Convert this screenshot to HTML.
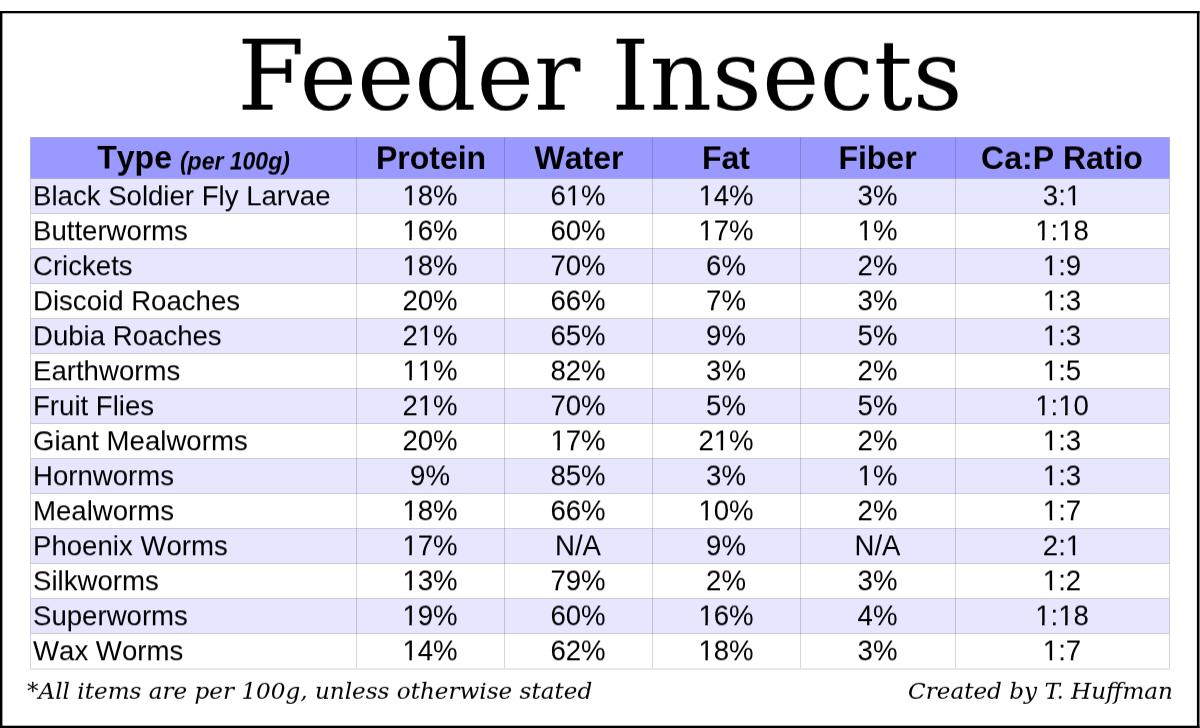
<!DOCTYPE html>
<html lang="en"><head><meta charset="utf-8"><title>Feeder Insects</title>
<style>
html,body{margin:0;padding:0;background:#fff;}
body{width:1200px;height:728px;position:relative;overflow:hidden;font-family:"Liberation Sans",sans-serif;color:#000;font-kerning:none;}
.bg{position:absolute;left:0;top:0;}
h1{position:absolute;left:0.4px;width:1200px;margin:0;text-align:center;font-family:"DejaVu Serif",serif;font-kerning:normal;font-weight:normal;font-size:97.1px;line-height:120px;top:15.5px;white-space:nowrap;transform:perspective(100000px) translateY(0.7px) rotateX(0.01deg);}
.c{position:absolute;white-space:nowrap;font-size:27.6px;line-height:35px;height:35px;}
.c.t{transform:perspective(100000px) translateY(0.3px) rotateX(0.01deg);}
.c.n{text-align:center;transform:perspective(100000px) translateY(0.3px) scaleY(1.04) rotateX(0.01deg);transform-origin:50% 27px;}
.c.t{text-align:left;}
.h{position:absolute;white-space:nowrap;font-weight:bold;font-size:32px;line-height:41px;height:41px;text-align:center;top:138px;transform:perspective(100000px) translateY(0px) scaleY(1.025) rotateX(0.01deg);transform-origin:50% 31px;}
.h.h0{transform:perspective(100000px) translateY(-0.5px) scaleY(1.025) rotateX(0.01deg);}
.h .ty{font-size:32px;}
.h .per{font-size:23px;font-style:italic;position:relative;top:0.9px;left:-0.9px;}
.foot{position:absolute;font-family:"DejaVu Serif",serif;font-kerning:normal;font-style:italic;font-size:23.1px;line-height:30px;top:675px;white-space:nowrap;transform:perspective(100000px) translateY(0.8px) rotateX(0.01deg);}
</style></head><body>
<h1>Feeder Insects</h1>

<svg class="bg" width="1200" height="728" viewBox="0 0 1200 728"><g fill="#000"><rect x="0" y="11" width="1199.5" height="2.3"/><rect x="0" y="11" width="2.4" height="717"/><rect x="1196.9" y="11" width="2.6" height="717"/><rect x="0" y="725.7" width="1199.5" height="2.3"/></g><rect x="30.5" y="137.5" width="1139" height="41.2" fill="#9999ff"/><rect x="30.5" y="178.5" width="1139" height="35" fill="#e6e6ff"/><rect x="30.5" y="248.5" width="1139" height="35" fill="#e6e6ff"/><rect x="30.5" y="318.5" width="1139" height="35" fill="#e6e6ff"/><rect x="30.5" y="388.5" width="1139" height="35" fill="#e6e6ff"/><rect x="30.5" y="458.5" width="1139" height="35" fill="#e6e6ff"/><rect x="30.5" y="528.5" width="1139" height="35" fill="#e6e6ff"/><rect x="30.5" y="598.5" width="1139" height="35" fill="#e6e6ff"/><g fill="#000" fill-opacity="0.16"><rect x="30" y="137" width="1" height="531.2"/><rect x="356" y="137" width="1" height="531.2"/><rect x="504" y="137" width="1" height="531.2"/><rect x="652" y="137" width="1" height="531.2"/><rect x="800" y="137" width="1" height="531.2"/><rect x="955" y="137" width="1" height="531.2"/><rect x="1169" y="137" width="1" height="531.2"/><rect x="31" y="137" width="1138" height="1"/><rect x="31" y="178" width="1138" height="1"/><rect x="31" y="213" width="1138" height="1"/><rect x="31" y="248" width="1138" height="1"/><rect x="31" y="283" width="1138" height="1"/><rect x="31" y="318" width="1138" height="1"/><rect x="31" y="353" width="1138" height="1"/><rect x="31" y="388" width="1138" height="1"/><rect x="31" y="423" width="1138" height="1"/><rect x="31" y="458" width="1138" height="1"/><rect x="31" y="493" width="1138" height="1"/><rect x="31" y="528" width="1138" height="1"/><rect x="31" y="563" width="1138" height="1"/><rect x="31" y="598" width="1138" height="1"/><rect x="31" y="633" width="1138" height="1"/></g><rect x="30" y="668.2" width="1140" height="1.5" fill="#000" fill-opacity="0.115"/></svg>
<div role="table" aria-label="Feeder insects nutrition table">
<div role="row">
<div role="columnheader" class="h h0" style="left:30.5px;width:326px"><span class="ty">Type</span> <span class="per">(per 100g)</span></div>
<div role="columnheader" class="h" style="left:356.5px;width:148px">Protein</div>
<div role="columnheader" class="h" style="left:504.5px;width:148px">Water</div>
<div role="columnheader" class="h" style="left:651.8px;width:148px">Fat</div>
<div role="columnheader" class="h" style="left:800.0px;width:155px">Fiber</div>
<div role="columnheader" class="h" style="left:954.6px;width:214px">Ca:P Ratio</div>
</div>
<div role="row">
<div role="rowheader" class="c t" style="left:32.6px;top:178px">Black Soldier Fly Larvae</div>
<div role="cell" class="c n" style="left:356px;width:148px;top:178px">18%</div>
<div role="cell" class="c n" style="left:504px;width:148px;top:178px">61%</div>
<div role="cell" class="c n" style="left:652px;width:148px;top:178px">14%</div>
<div role="cell" class="c n" style="left:800px;width:155px;top:178px">3%</div>
<div role="cell" class="c n" style="left:955px;width:214px;top:178px">3:1</div>
</div>
<div role="row">
<div role="rowheader" class="c t" style="left:32.6px;top:213px">Butterworms</div>
<div role="cell" class="c n" style="left:356px;width:148px;top:213px">16%</div>
<div role="cell" class="c n" style="left:504px;width:148px;top:213px">60%</div>
<div role="cell" class="c n" style="left:652px;width:148px;top:213px">17%</div>
<div role="cell" class="c n" style="left:800px;width:155px;top:213px">1%</div>
<div role="cell" class="c n" style="left:955px;width:214px;top:213px">1:18</div>
</div>
<div role="row">
<div role="rowheader" class="c t" style="left:32.6px;top:248px">Crickets</div>
<div role="cell" class="c n" style="left:356px;width:148px;top:248px">18%</div>
<div role="cell" class="c n" style="left:504px;width:148px;top:248px">70%</div>
<div role="cell" class="c n" style="left:652px;width:148px;top:248px">6%</div>
<div role="cell" class="c n" style="left:800px;width:155px;top:248px">2%</div>
<div role="cell" class="c n" style="left:955px;width:214px;top:248px">1:9</div>
</div>
<div role="row">
<div role="rowheader" class="c t" style="left:32.6px;top:283px">Discoid Roaches</div>
<div role="cell" class="c n" style="left:356px;width:148px;top:283px">20%</div>
<div role="cell" class="c n" style="left:504px;width:148px;top:283px">66%</div>
<div role="cell" class="c n" style="left:652px;width:148px;top:283px">7%</div>
<div role="cell" class="c n" style="left:800px;width:155px;top:283px">3%</div>
<div role="cell" class="c n" style="left:955px;width:214px;top:283px">1:3</div>
</div>
<div role="row">
<div role="rowheader" class="c t" style="left:32.6px;top:318px">Dubia Roaches</div>
<div role="cell" class="c n" style="left:356px;width:148px;top:318px">21%</div>
<div role="cell" class="c n" style="left:504px;width:148px;top:318px">65%</div>
<div role="cell" class="c n" style="left:652px;width:148px;top:318px">9%</div>
<div role="cell" class="c n" style="left:800px;width:155px;top:318px">5%</div>
<div role="cell" class="c n" style="left:955px;width:214px;top:318px">1:3</div>
</div>
<div role="row">
<div role="rowheader" class="c t" style="left:32.6px;top:353px">Earthworms</div>
<div role="cell" class="c n" style="left:356px;width:148px;top:353px">11%</div>
<div role="cell" class="c n" style="left:504px;width:148px;top:353px">82%</div>
<div role="cell" class="c n" style="left:652px;width:148px;top:353px">3%</div>
<div role="cell" class="c n" style="left:800px;width:155px;top:353px">2%</div>
<div role="cell" class="c n" style="left:955px;width:214px;top:353px">1:5</div>
</div>
<div role="row">
<div role="rowheader" class="c t" style="left:32.6px;top:388px">Fruit Flies</div>
<div role="cell" class="c n" style="left:356px;width:148px;top:388px">21%</div>
<div role="cell" class="c n" style="left:504px;width:148px;top:388px">70%</div>
<div role="cell" class="c n" style="left:652px;width:148px;top:388px">5%</div>
<div role="cell" class="c n" style="left:800px;width:155px;top:388px">5%</div>
<div role="cell" class="c n" style="left:955px;width:214px;top:388px">1:10</div>
</div>
<div role="row">
<div role="rowheader" class="c t" style="left:32.6px;top:423px">Giant Mealworms</div>
<div role="cell" class="c n" style="left:356px;width:148px;top:423px">20%</div>
<div role="cell" class="c n" style="left:504px;width:148px;top:423px">17%</div>
<div role="cell" class="c n" style="left:652px;width:148px;top:423px">21%</div>
<div role="cell" class="c n" style="left:800px;width:155px;top:423px">2%</div>
<div role="cell" class="c n" style="left:955px;width:214px;top:423px">1:3</div>
</div>
<div role="row">
<div role="rowheader" class="c t" style="left:32.6px;top:458px">Hornworms</div>
<div role="cell" class="c n" style="left:356px;width:148px;top:458px">9%</div>
<div role="cell" class="c n" style="left:504px;width:148px;top:458px">85%</div>
<div role="cell" class="c n" style="left:652px;width:148px;top:458px">3%</div>
<div role="cell" class="c n" style="left:800px;width:155px;top:458px">1%</div>
<div role="cell" class="c n" style="left:955px;width:214px;top:458px">1:3</div>
</div>
<div role="row">
<div role="rowheader" class="c t" style="left:32.6px;top:493px">Mealworms</div>
<div role="cell" class="c n" style="left:356px;width:148px;top:493px">18%</div>
<div role="cell" class="c n" style="left:504px;width:148px;top:493px">66%</div>
<div role="cell" class="c n" style="left:652px;width:148px;top:493px">10%</div>
<div role="cell" class="c n" style="left:800px;width:155px;top:493px">2%</div>
<div role="cell" class="c n" style="left:955px;width:214px;top:493px">1:7</div>
</div>
<div role="row">
<div role="rowheader" class="c t" style="left:32.6px;top:528px">Phoenix Worms</div>
<div role="cell" class="c n" style="left:356px;width:148px;top:528px">17%</div>
<div role="cell" class="c n" style="left:504px;width:148px;top:528px">N/A</div>
<div role="cell" class="c n" style="left:652px;width:148px;top:528px">9%</div>
<div role="cell" class="c n" style="left:800px;width:155px;top:528px">N/A</div>
<div role="cell" class="c n" style="left:955px;width:214px;top:528px">2:1</div>
</div>
<div role="row">
<div role="rowheader" class="c t" style="left:32.6px;top:563px">Silkworms</div>
<div role="cell" class="c n" style="left:356px;width:148px;top:563px">13%</div>
<div role="cell" class="c n" style="left:504px;width:148px;top:563px">79%</div>
<div role="cell" class="c n" style="left:652px;width:148px;top:563px">2%</div>
<div role="cell" class="c n" style="left:800px;width:155px;top:563px">3%</div>
<div role="cell" class="c n" style="left:955px;width:214px;top:563px">1:2</div>
</div>
<div role="row">
<div role="rowheader" class="c t" style="left:32.6px;top:598px">Superworms</div>
<div role="cell" class="c n" style="left:356px;width:148px;top:598px">19%</div>
<div role="cell" class="c n" style="left:504px;width:148px;top:598px">60%</div>
<div role="cell" class="c n" style="left:652px;width:148px;top:598px">16%</div>
<div role="cell" class="c n" style="left:800px;width:155px;top:598px">4%</div>
<div role="cell" class="c n" style="left:955px;width:214px;top:598px">1:18</div>
</div>
<div role="row">
<div role="rowheader" class="c t" style="left:32.6px;top:633px">Wax Worms</div>
<div role="cell" class="c n" style="left:356px;width:148px;top:633px">14%</div>
<div role="cell" class="c n" style="left:504px;width:148px;top:633px">62%</div>
<div role="cell" class="c n" style="left:652px;width:148px;top:633px">18%</div>
<div role="cell" class="c n" style="left:800px;width:155px;top:633px">3%</div>
<div role="cell" class="c n" style="left:955px;width:214px;top:633px">1:7</div>
</div>
</div>
<svg class="bg" width="1200" height="728" viewBox="0 0 1200 728"><path fill="#e6e6ff" d="M403.68 202.70H409.32V205.90H403.68ZM411.76 202.70H417.18V205.90H411.76ZM567.03 202.70H572.67V205.90H567.03ZM575.11 202.70H580.53V205.90H575.11ZM699.68 202.70H705.32V205.90H699.68ZM707.76 202.70H713.18V205.90H707.76ZM1067.13 202.70H1072.77V205.90H1067.13ZM1075.21 202.70H1080.63V205.90H1075.21Z"/><path fill="#ffffff" d="M403.68 237.70H409.32V240.90H403.68ZM411.76 237.70H417.18V240.90H411.76ZM699.68 237.70H705.32V240.90H699.68ZM707.76 237.70H713.18V240.90H707.76ZM858.85 237.70H864.50V240.90H858.85ZM866.93 237.70H872.35V240.90H866.93ZM1036.44 237.70H1042.08V240.90H1036.44ZM1044.52 237.70H1049.94V240.90H1044.52ZM1059.46 237.70H1065.10V240.90H1059.46ZM1067.54 237.70H1072.96V240.90H1067.54Z"/><path fill="#e6e6ff" d="M403.68 272.70H409.32V275.90H403.68ZM411.76 272.70H417.18V275.90H411.76ZM1044.12 272.70H1049.76V275.90H1044.12ZM1052.20 272.70H1057.62V275.90H1052.20Z"/><path fill="#ffffff" d="M1044.12 307.70H1049.76V310.90H1044.12ZM1052.20 307.70H1057.62V310.90H1052.20Z"/><path fill="#e6e6ff" d="M419.03 342.70H424.67V345.90H419.03ZM427.11 342.70H432.53V345.90H427.11ZM1044.12 342.70H1049.76V345.90H1044.12ZM1052.20 342.70H1057.62V345.90H1052.20Z"/><path fill="#ffffff" d="M403.68 377.70H409.32V380.90H403.68ZM411.76 377.70H417.18V380.90H411.76ZM419.03 377.70H424.67V380.90H419.03ZM427.11 377.70H432.53V380.90H427.11ZM1044.12 377.70H1049.76V380.90H1044.12ZM1052.20 377.70H1057.62V380.90H1052.20Z"/><path fill="#e6e6ff" d="M419.03 412.70H424.67V415.90H419.03ZM427.11 412.70H432.53V415.90H427.11ZM1036.44 412.70H1042.08V415.90H1036.44ZM1044.52 412.70H1049.94V415.90H1044.52ZM1059.46 412.70H1065.10V415.90H1059.46ZM1067.54 412.70H1072.96V415.90H1067.54Z"/><path fill="#ffffff" d="M551.68 447.70H557.32V450.90H551.68ZM559.76 447.70H565.18V450.90H559.76ZM715.03 447.70H720.67V450.90H715.03ZM723.11 447.70H728.53V450.90H723.11ZM1044.12 447.70H1049.76V450.90H1044.12ZM1052.20 447.70H1057.62V450.90H1052.20Z"/><path fill="#e6e6ff" d="M858.85 482.70H864.50V485.90H858.85ZM866.93 482.70H872.35V485.90H866.93ZM1044.12 482.70H1049.76V485.90H1044.12ZM1052.20 482.70H1057.62V485.90H1052.20Z"/><path fill="#ffffff" d="M403.68 517.70H409.32V520.90H403.68ZM411.76 517.70H417.18V520.90H411.76ZM699.68 517.70H705.32V520.90H699.68ZM707.76 517.70H713.18V520.90H707.76ZM1044.12 517.70H1049.76V520.90H1044.12ZM1052.20 517.70H1057.62V520.90H1052.20Z"/><path fill="#e6e6ff" d="M403.68 552.70H409.32V555.90H403.68ZM411.76 552.70H417.18V555.90H411.76ZM1067.13 552.70H1072.77V555.90H1067.13ZM1075.21 552.70H1080.63V555.90H1075.21Z"/><path fill="#ffffff" d="M403.68 587.70H409.32V590.90H403.68ZM411.76 587.70H417.18V590.90H411.76ZM1044.12 587.70H1049.76V590.90H1044.12ZM1052.20 587.70H1057.62V590.90H1052.20Z"/><path fill="#e6e6ff" d="M403.68 622.70H409.32V625.90H403.68ZM411.76 622.70H417.18V625.90H411.76ZM699.68 622.70H705.32V625.90H699.68ZM707.76 622.70H713.18V625.90H707.76ZM1036.44 622.70H1042.08V625.90H1036.44ZM1044.52 622.70H1049.94V625.90H1044.52ZM1059.46 622.70H1065.10V625.90H1059.46ZM1067.54 622.70H1072.96V625.90H1067.54Z"/><path fill="#ffffff" d="M403.68 657.70H409.32V660.90H403.68ZM411.76 657.70H417.18V660.90H411.76ZM699.68 657.70H705.32V660.90H699.68ZM707.76 657.70H713.18V660.90H707.76ZM1044.12 657.70H1049.76V660.90H1044.12ZM1052.20 657.70H1057.62V660.90H1052.20Z"/></svg>
<div class="foot" style="left:27px">*All items are per 100g, unless otherwise stated</div>
<div class="foot" style="right:27px">Created by T. Huffman</div>
</body></html>
